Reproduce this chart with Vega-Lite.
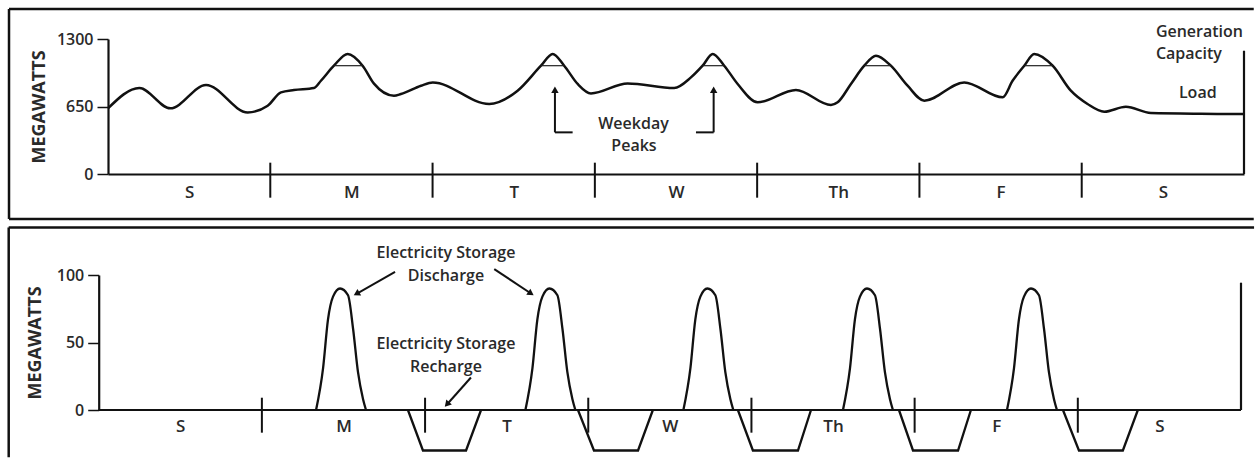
{
  "$schema": "https://vega.github.io/schema/vega-lite/v6.json",
  "padding": {"left": 7, "top": 7, "right": 0, "bottom": 0},
  "config": {
    "view": {"stroke": null},
    "font": "Open Sans",
    "axis": {
      "grid": false, "domainColor": "#111", "domainWidth": 2.2, "tickColor": "#111", "tickWidth": 1.5,
      "labelFont": "Open Sans", "labelFontWeight": 600, "labelColor": "#2a2a2a", "labelFontSize": 16,
      "titleFont": "Open Sans", "titleFontWeight": 700, "titleColor": "#2a2a2a", "titleFontSize": 18
    },
    "text": {"font": "Open Sans", "fontWeight": 600, "fontSize": 16, "color": "#2a2a2a"}
  },
  "datasets": {
    "load": [
      {"day": 0, "mw": 632}, {"day": 0.193, "mw": 828}, {"day": 0.384, "mw": 632}, {"day": 0.604, "mw": 857},
      {"day": 0.861, "mw": 593}, {"day": 0.984, "mw": 658}, {"day": 1.066, "mw": 786}, {"day": 1.146, "mw": 809},
      {"day": 1.269, "mw": 828}, {"day": 1.312, "mw": 898}, {"day": 1.392, "mw": 1043}, {"day": 1.477, "mw": 1156},
      {"day": 1.569, "mw": 1043}, {"day": 1.639, "mw": 870}, {"day": 1.762, "mw": 754}, {"day": 1.805, "mw": 770},
      {"day": 1.929, "mw": 850}, {"day": 2.001, "mw": 882}, {"day": 2.349, "mw": 674}, {"day": 2.524, "mw": 802},
      {"day": 2.668, "mw": 1043}, {"day": 2.74, "mw": 1156}, {"day": 2.811, "mw": 1043}, {"day": 2.894, "mw": 867},
      {"day": 2.976, "mw": 776}, {"day": 3.202, "mw": 872}, {"day": 3.489, "mw": 828}, {"day": 3.592, "mw": 930},
      {"day": 3.664, "mw": 1043}, {"day": 3.726, "mw": 1156}, {"day": 3.797, "mw": 1043}, {"day": 3.88, "mw": 867},
      {"day": 4.003, "mw": 690}, {"day": 4.239, "mw": 809}, {"day": 4.455, "mw": 664}, {"day": 4.496, "mw": 690},
      {"day": 4.578, "mw": 867}, {"day": 4.66, "mw": 1043}, {"day": 4.732, "mw": 1139}, {"day": 4.824, "mw": 1043},
      {"day": 4.927, "mw": 850}, {"day": 5.03, "mw": 706}, {"day": 5.276, "mw": 882}, {"day": 5.513, "mw": 738},
      {"day": 5.574, "mw": 898}, {"day": 5.646, "mw": 1043}, {"day": 5.707, "mw": 1156}, {"day": 5.821, "mw": 1043},
      {"day": 5.933, "mw": 802}, {"day": 6.036, "mw": 674}, {"day": 6.139, "mw": 600}, {"day": 6.272, "mw": 648},
      {"day": 6.426, "mw": 587}, {"day": 6.734, "mw": 580}, {"day": 7, "mw": 578}
    ],
    "capacity": [
      {"day": 1.392, "day2": 1.569, "mw": 1043}, {"day": 2.668, "day2": 2.811, "mw": 1043},
      {"day": 3.664, "day2": 3.797, "mw": 1043}, {"day": 4.66, "day2": 4.824, "mw": 1043},
      {"day": 5.646, "day2": 5.821, "mw": 1043}
    ],
    "bounds": [{"day": 1}, {"day": 2}, {"day": 3}, {"day": 4}, {"day": 5}, {"day": 6}],
    "callout": [
      {"day": 2.754, "mw": 401, "day2": 2.754, "mw2": 812}, {"day": 2.754, "mw": 401, "day2": 2.863, "mw2": 401},
      {"day": 3.732, "mw": 401, "day2": 3.732, "mw2": 812}, {"day": 3.623, "mw": 401, "day2": 3.732, "mw2": 401}
    ],
    "calloutHeads": [{"day": 2.754, "mw": 812}, {"day": 3.732, "mw": 812}],
    "topCentered": [
      {"label": "Weekday", "day": 3.238, "mw": 481}, {"label": "Peaks", "day": 3.241, "mw": 273}
    ],
    "topLeft": [
      {"label": "Generation", "day": 6.457, "mw": 1364}, {"label": "Capacity", "day": 6.457, "mw": 1156},
      {"label": "Load", "day": 6.599, "mw": 776}
    ],
    "discharge": [
      {"event": "M", "day": 1.332, "mw": 0}, {"event": "M", "day": 1.375, "mw": 31}, {"event": "M", "day": 1.405, "mw": 67},
      {"event": "M", "day": 1.436, "mw": 84}, {"event": "M", "day": 1.479, "mw": 90}, {"event": "M", "day": 1.528, "mw": 85},
      {"event": "M", "day": 1.559, "mw": 60}, {"event": "M", "day": 1.589, "mw": 28}, {"event": "M", "day": 1.62, "mw": 8},
      {"event": "M", "day": 1.638, "mw": 0},
      {"event": "T", "day": 2.615, "mw": 0}, {"event": "T", "day": 2.658, "mw": 31}, {"event": "T", "day": 2.688, "mw": 67},
      {"event": "T", "day": 2.719, "mw": 84}, {"event": "T", "day": 2.762, "mw": 90}, {"event": "T", "day": 2.811, "mw": 85},
      {"event": "T", "day": 2.842, "mw": 60}, {"event": "T", "day": 2.872, "mw": 28}, {"event": "T", "day": 2.903, "mw": 8},
      {"event": "T", "day": 2.921, "mw": 0},
      {"event": "W", "day": 3.583, "mw": 0}, {"event": "W", "day": 3.626, "mw": 31}, {"event": "W", "day": 3.656, "mw": 67},
      {"event": "W", "day": 3.687, "mw": 84}, {"event": "W", "day": 3.73, "mw": 90}, {"event": "W", "day": 3.779, "mw": 85},
      {"event": "W", "day": 3.81, "mw": 60}, {"event": "W", "day": 3.84, "mw": 28}, {"event": "W", "day": 3.871, "mw": 8},
      {"event": "W", "day": 3.889, "mw": 0},
      {"event": "Th", "day": 4.561, "mw": 0}, {"event": "Th", "day": 4.604, "mw": 31}, {"event": "Th", "day": 4.634, "mw": 67},
      {"event": "Th", "day": 4.665, "mw": 84}, {"event": "Th", "day": 4.708, "mw": 90}, {"event": "Th", "day": 4.757, "mw": 85},
      {"event": "Th", "day": 4.788, "mw": 60}, {"event": "Th", "day": 4.818, "mw": 28}, {"event": "Th", "day": 4.849, "mw": 8},
      {"event": "Th", "day": 4.867, "mw": 0},
      {"event": "F", "day": 5.566, "mw": 0}, {"event": "F", "day": 5.609, "mw": 31}, {"event": "F", "day": 5.639, "mw": 67},
      {"event": "F", "day": 5.67, "mw": 84}, {"event": "F", "day": 5.713, "mw": 90}, {"event": "F", "day": 5.762, "mw": 85},
      {"event": "F", "day": 5.793, "mw": 60}, {"event": "F", "day": 5.823, "mw": 28}, {"event": "F", "day": 5.854, "mw": 8},
      {"event": "F", "day": 5.872, "mw": 0}
    ],
    "recharge": [
      {"event": "R1", "day": 1.895, "mw": 0}, {"event": "R1", "day": 1.987, "mw": -30}, {"event": "R1", "day": 2.251, "mw": -30}, {"event": "R1", "day": 2.343, "mw": 0},
      {"event": "R2", "day": 2.937, "mw": 0}, {"event": "R2", "day": 3.035, "mw": -30}, {"event": "R2", "day": 3.305, "mw": -30}, {"event": "R2", "day": 3.396, "mw": 0},
      {"event": "R3", "day": 3.917, "mw": 0}, {"event": "R3", "day": 4.009, "mw": -30}, {"event": "R3", "day": 4.285, "mw": -30}, {"event": "R3", "day": 4.365, "mw": 0},
      {"event": "R4", "day": 4.904, "mw": 0}, {"event": "R4", "day": 4.99, "mw": -30}, {"event": "R4", "day": 5.266, "mw": -30}, {"event": "R4", "day": 5.345, "mw": 0},
      {"event": "R5", "day": 5.909, "mw": 0}, {"event": "R5", "day": 6.007, "mw": -30}, {"event": "R5", "day": 6.276, "mw": -30}, {"event": "R5", "day": 6.368, "mw": 0}
    ],
    "arrows": [
      {"day": 1.816, "mw": 102.4, "day2": 1.58, "mw2": 86.1, "angle": 240.3},
      {"day": 2.424, "mw": 104.4, "day2": 2.649, "mw2": 86.3, "angle": 123.7},
      {"day": 2.281, "mw": 24.1, "day2": 2.134, "mw2": 4.1, "angle": 221.7}
    ],
    "bottomText": [
      {"label": "Electricity Storage", "day": 2.128, "mw": 116.1},
      {"label": "Discharge", "day": 2.128, "mw": 99.5},
      {"label": "Electricity Storage", "day": 2.128, "mw": 48.8},
      {"label": "Recharge", "day": 2.128, "mw": 31.6}
    ]
  },
  "concat": [
    {
      "width": 1136,
      "height": 135,
      "layer": [
        {
          "data": {"name": "load"},
          "mark": {"type": "line", "interpolate": "monotone", "stroke": "#111", "strokeWidth": 2.5},
          "encoding": {
            "x": {"field": "day", "type": "quantitative", "title": null, "scale": {"domain": [0, 7], "nice": false, "zero": false},
              "axis": {"values": [0.5, 1.5, 2.5, 3.5, 4.5, 5.5, 6.5], "labelExpr": "['S','M','T','W','Th','F','S'][floor(datum.value)]", "ticks": false, "tickSize": 0, "labelPadding": 10, "labelFlush": false, "labelOverlap": false, "labelFontSize": 17}},
            "y": {"field": "mw", "type": "quantitative", "title": "MEGAWATTS", "scale": {"domain": [0, 1300], "nice": false},
              "axis": {"values": [0, 650, 1300], "format": "d", "tickSize": 11, "labelPadding": 4, "titlePadding": 8, "labelOverlap": false}}
          }
        },
        {
          "data": {"values": [{}]},
          "mark": {"type": "rule", "stroke": "#111", "strokeWidth": 2.5},
          "encoding": {
            "x": {"datum": -0.61, "type": "quantitative", "title": null, "scale": {"domain": [0, 7], "nice": false, "zero": false}},
            "x2": {"datum": 7.06},
            "y": {"datum": 1589, "type": "quantitative", "title": "MEGAWATTS", "scale": {"domain": [0, 1300], "nice": false}}
          }
        },
        {
          "data": {"values": [{}]},
          "mark": {"type": "rule", "stroke": "#111", "strokeWidth": 2.5},
          "encoding": {
            "x": {"datum": -0.61, "type": "quantitative", "title": null, "scale": {"domain": [0, 7], "nice": false, "zero": false}},
            "x2": {"datum": 7.06},
            "y": {"datum": -433, "type": "quantitative", "title": "MEGAWATTS", "scale": {"domain": [0, 1300], "nice": false}}
          }
        },
        {
          "data": {"values": [{}]},
          "mark": {"type": "rule", "stroke": "#111", "strokeWidth": 2.5},
          "encoding": {
            "x": {"datum": -0.61, "type": "quantitative", "title": null, "scale": {"domain": [0, 7], "nice": false, "zero": false}},
            "y": {"datum": -433, "type": "quantitative", "title": "MEGAWATTS", "scale": {"domain": [0, 1300], "nice": false}},
            "y2": {"datum": 1589}
          }
        },
        {
          "data": {"name": "capacity"},
          "mark": {"type": "rule", "stroke": "#222", "strokeWidth": 1.2},
          "encoding": {
            "x": {"field": "day", "type": "quantitative", "title": null, "scale": {"domain": [0, 7], "nice": false, "zero": false}},
            "x2": {"field": "day2"},
            "y": {"field": "mw", "type": "quantitative", "title": "MEGAWATTS", "scale": {"domain": [0, 1300], "nice": false}}
          }
        },
        {
          "data": {"name": "bounds"},
          "mark": {"type": "rule", "stroke": "#111", "strokeWidth": 2},
          "encoding": {
            "x": {"field": "day", "type": "quantitative", "title": null, "scale": {"domain": [0, 7], "nice": false, "zero": false}},
            "y": {"datum": -228, "type": "quantitative", "title": "MEGAWATTS", "scale": {"domain": [0, 1300], "nice": false}},
            "y2": {"datum": 109}
          }
        },
        {
          "data": {"values": [{}]},
          "mark": {"type": "rule", "stroke": "#111", "strokeWidth": 2.2},
          "encoding": {
            "x": {"datum": 7, "type": "quantitative", "title": null, "scale": {"domain": [0, 7], "nice": false, "zero": false}},
            "y": {"datum": 0, "type": "quantitative", "title": "MEGAWATTS", "scale": {"domain": [0, 1300], "nice": false}},
            "y2": {"datum": 1187}
          }
        },
        {
          "data": {"name": "callout"},
          "mark": {"type": "rule", "stroke": "#111", "strokeWidth": 2},
          "encoding": {
            "x": {"field": "day", "type": "quantitative", "title": null, "scale": {"domain": [0, 7], "nice": false, "zero": false}},
            "x2": {"field": "day2"},
            "y": {"field": "mw", "type": "quantitative", "title": "MEGAWATTS", "scale": {"domain": [0, 1300], "nice": false}},
            "y2": {"field": "mw2"}
          }
        },
        {
          "data": {"name": "calloutHeads"},
          "mark": {"type": "point", "shape": "triangle-up", "filled": true, "fill": "#111", "size": 55, "opacity": 1},
          "encoding": {
            "x": {"field": "day", "type": "quantitative", "title": null, "scale": {"domain": [0, 7], "nice": false, "zero": false}},
            "y": {"field": "mw", "type": "quantitative", "title": "MEGAWATTS", "scale": {"domain": [0, 1300], "nice": false}}
          }
        },
        {
          "data": {"name": "topCentered"},
          "mark": {"type": "text", "align": "center", "baseline": "middle"},
          "encoding": {
            "x": {"field": "day", "type": "quantitative", "title": null, "scale": {"domain": [0, 7], "nice": false, "zero": false}},
            "y": {"field": "mw", "type": "quantitative", "title": "MEGAWATTS", "scale": {"domain": [0, 1300], "nice": false}},
            "text": {"field": "label"}
          }
        },
        {
          "data": {"name": "topLeft"},
          "mark": {"type": "text", "align": "left", "baseline": "middle"},
          "encoding": {
            "x": {"field": "day", "type": "quantitative", "title": null, "scale": {"domain": [0, 7], "nice": false, "zero": false}},
            "y": {"field": "mw", "type": "quantitative", "title": "MEGAWATTS", "scale": {"domain": [0, 1300], "nice": false}},
            "text": {"field": "label"}
          }
        }
      ]
    },
    {
      "width": 1133,
      "height": 135,
      "layer": [
        {
          "data": {"name": "discharge"},
          "mark": {"type": "line", "interpolate": "monotone", "stroke": "#111", "strokeWidth": 2.3},
          "encoding": {
            "x": {"field": "day", "type": "quantitative", "title": null, "scale": {"domain": [0.057, 7], "nice": false, "zero": false},
              "axis": {"values": [0.5, 1.5, 2.5, 3.5, 4.5, 5.5, 6.5], "labelExpr": "['S','M','T','W','Th','F','S'][floor(datum.value)]", "domain": false, "ticks": false, "tickSize": 0, "labelPadding": 8, "labelFlush": false, "labelOverlap": false, "labelFontSize": 17}},
            "y": {"field": "mw", "type": "quantitative", "title": "MEGAWATTS", "scale": {"domain": [0, 100], "nice": false},
              "axis": {"values": [0, 50, 100], "offset": 9.3, "tickSize": 11, "labelPadding": 4, "titlePadding": 12, "labelOverlap": false}},
            "detail": {"field": "event"}
          }
        },
        {
          "data": {"values": [{}]},
          "mark": {"type": "rule", "stroke": "#111", "strokeWidth": 2.5},
          "encoding": {
            "x": {"datum": -0.5515, "type": "quantitative", "title": null, "scale": {"domain": [0.057, 7], "nice": false, "zero": false}},
            "x2": {"datum": 7.08},
            "y": {"datum": 135.2, "type": "quantitative", "title": "MEGAWATTS", "scale": {"domain": [0, 100], "nice": false}}
          }
        },
        {
          "data": {"values": [{}]},
          "mark": {"type": "rule", "stroke": "#111", "strokeWidth": 2.5},
          "encoding": {
            "x": {"datum": -0.5515, "type": "quantitative", "title": null, "scale": {"domain": [0.057, 7], "nice": false, "zero": false}},
            "y": {"datum": -35, "type": "quantitative", "title": "MEGAWATTS", "scale": {"domain": [0, 100], "nice": false}},
            "y2": {"datum": 135.2}
          }
        },
        {
          "data": {"values": [{}]},
          "mark": {"type": "rule", "stroke": "#111", "strokeWidth": 2.2},
          "encoding": {
            "x": {"datum": 0, "type": "quantitative", "title": null, "scale": {"domain": [0.057, 7], "nice": false, "zero": false}},
            "x2": {"datum": 7},
            "y": {"datum": 0, "type": "quantitative", "title": "MEGAWATTS", "scale": {"domain": [0, 100], "nice": false}}
          }
        },
        {
          "data": {"name": "recharge"},
          "mark": {"type": "line", "interpolate": "linear", "stroke": "#111", "strokeWidth": 2.3},
          "encoding": {
            "x": {"field": "day", "type": "quantitative", "title": null, "scale": {"domain": [0.057, 7], "nice": false, "zero": false}},
            "y": {"field": "mw", "type": "quantitative", "title": "MEGAWATTS", "scale": {"domain": [0, 100], "nice": false}},
            "detail": {"field": "event"}
          }
        },
        {
          "data": {"name": "bounds"},
          "mark": {"type": "rule", "stroke": "#111", "strokeWidth": 2},
          "encoding": {
            "x": {"field": "day", "type": "quantitative", "title": null, "scale": {"domain": [0.057, 7], "nice": false, "zero": false}},
            "y": {"datum": -16.8, "type": "quantitative", "title": "MEGAWATTS", "scale": {"domain": [0, 100], "nice": false}},
            "y2": {"datum": 9.1}
          }
        },
        {
          "data": {"values": [{}]},
          "mark": {"type": "rule", "stroke": "#111", "strokeWidth": 2.2},
          "encoding": {
            "x": {"datum": 7, "type": "quantitative", "title": null, "scale": {"domain": [0.057, 7], "nice": false, "zero": false}},
            "y": {"datum": 0, "type": "quantitative", "title": "MEGAWATTS", "scale": {"domain": [0, 100], "nice": false}},
            "y2": {"datum": 94.3}
          }
        },
        {
          "data": {"name": "arrows"},
          "mark": {"type": "rule", "stroke": "#111", "strokeWidth": 2},
          "encoding": {
            "x": {"field": "day", "type": "quantitative", "title": null, "scale": {"domain": [0.057, 7], "nice": false, "zero": false}},
            "x2": {"field": "day2"},
            "y": {"field": "mw", "type": "quantitative", "title": "MEGAWATTS", "scale": {"domain": [0, 100], "nice": false}},
            "y2": {"field": "mw2"}
          }
        },
        {
          "data": {"name": "arrows"},
          "mark": {"type": "point", "shape": "triangle-up", "filled": true, "fill": "#111", "size": 55, "opacity": 1},
          "encoding": {
            "x": {"field": "day2", "type": "quantitative", "title": null, "scale": {"domain": [0.057, 7], "nice": false, "zero": false}},
            "y": {"field": "mw2", "type": "quantitative", "title": "MEGAWATTS", "scale": {"domain": [0, 100], "nice": false}},
            "angle": {"field": "angle", "type": "quantitative", "scale": null}
          }
        },
        {
          "data": {"name": "bottomText"},
          "mark": {"type": "text", "align": "center", "baseline": "middle"},
          "encoding": {
            "x": {"field": "day", "type": "quantitative", "title": null, "scale": {"domain": [0.057, 7], "nice": false, "zero": false}},
            "y": {"field": "mw", "type": "quantitative", "title": "MEGAWATTS", "scale": {"domain": [0, 100], "nice": false}},
            "text": {"field": "label"}
          }
        }
      ]
    }
  ],
  "columns": 1,
  "spacing": 5
}
